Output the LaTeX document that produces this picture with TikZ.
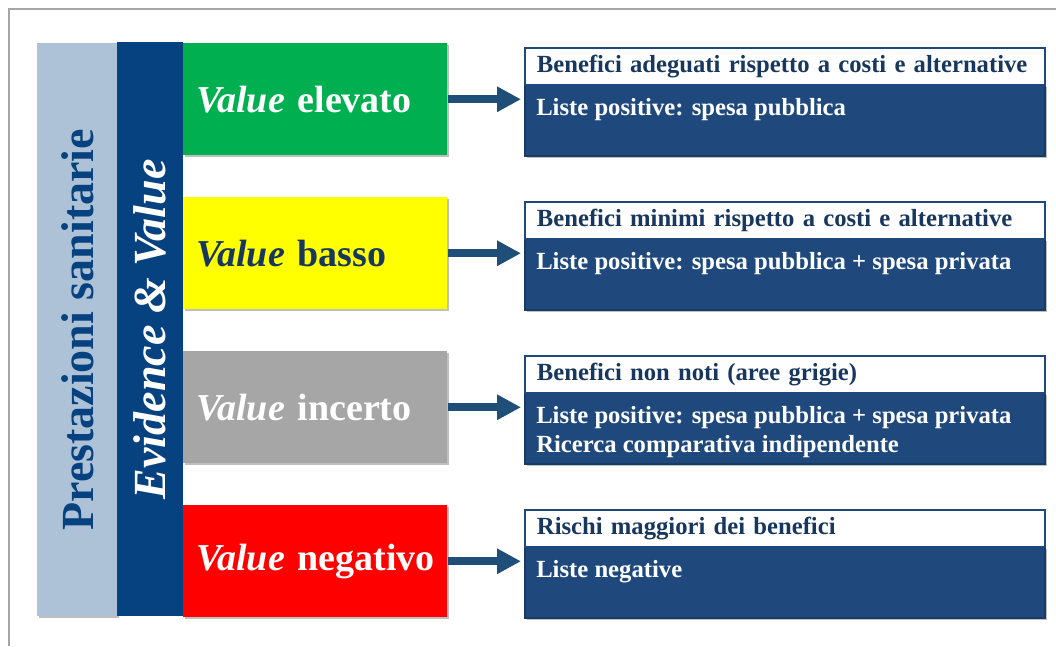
\documentclass[tikz,border=0pt]{standalone}
\usepackage{fontspec}
\setmainfont{Liberation Serif}
\usepackage{xcolor}
\usetikzlibrary{arrows.meta,shadows}

\definecolor{frameGray}{HTML}{A6A6A6}
\definecolor{colLight}{HTML}{ADC2D6}
\definecolor{colDark}{HTML}{06427F}
\definecolor{boxBlue}{HTML}{1F497D}
\definecolor{arrowBlue}{HTML}{1F4E79}
\definecolor{navyText}{HTML}{17375E}
\definecolor{valGreen}{HTML}{00B050}
\definecolor{valYellow}{HTML}{FFFF00}
\definecolor{valGray}{HTML}{A6A6A6}
\definecolor{valRed}{HTML}{FF0000}

\newcommand{\colfont}{\fontsize{34.5}{40}\selectfont\bfseries}
\newcommand{\valfont}{\fontsize{28.5}{34}\selectfont\bfseries}
\newcommand{\boxfont}{\fontsize{18.5}{21.75}\selectfont\bfseries}

\begin{document}
\begin{tikzpicture}[x=0.75pt, y=-0.75pt,
    softshadow/.style={drop shadow={shadow xshift=1.5pt, shadow yshift=-1.5pt, opacity=0.25, fill=black}},
    valbox/.style={softshadow, anchor=north west, inner xsep=9.75pt, inner ysep=0pt,
        minimum width=198pt, minimum height=84pt, text width=178.5pt, align=left, font=\valfont},
    headbox/.style={anchor=north west, fill=white, draw=boxBlue, line width=1.4pt, inner xsep=9pt,
        minimum width=390pt, minimum height=27.75pt, text width=372pt, align=left,
        font=\boxfont, text=navyText},
    bodybox/.style={softshadow, anchor=north west, fill=boxBlue, draw=boxBlue!80!black, line width=1.2pt,
        minimum width=390pt, minimum height=53.25pt, inner sep=0pt},
    bodytext/.style={anchor=north west, inner sep=0pt, align=left, font=\boxfont, text=white},
    valarrow/.style={arrowBlue, line width=6pt, -{Triangle[length=18pt, width=18pt]}, shorten >=2.25pt}]
    \useasboundingbox (0,0) rectangle (1056,646);

    % Frame
    \draw[frameGray, line width=1.5pt] (9,646) -- (9,9) -- (1056,9);

    % Side columns
    \node[softshadow, fill=colLight, anchor=north west, inner sep=0pt,
        minimum width=60pt, minimum height=429.75pt] (prest) at (37,43) {};
    \node[rotate=90, font=\colfont, text=colDark] (prestlbl) at (prest.center) {Prestazioni sanitarie};
    \node[fill=colDark, anchor=north west, inner sep=0pt,
        minimum width=49.5pt, minimum height=430.5pt] (evid) at (117,42) {};
    \node[rotate=90, font=\colfont, text=white] (evidlbl) at (evid.center) {\itshape Evidence \& Value};

    % Value boxes
    \foreach \i/\col/\txt/\word in {0/valGreen/white/elevato, 1/valYellow/navyText/basso,
                                     2/valGray/white/incerto, 3/valRed/white/negativo} {
        \node[valbox, fill=\col, text=\txt] (val\i) at (183, {43+154*\i}) {\mbox{\textit{Value} \word}};
    }

    % Header and body boxes
    \foreach \i/\head/\body in {
        0/{Benefici adeguati rispetto a costi e alternative}/{Liste positive: spesa pubblica},
        1/{Benefici minimi rispetto a costi e alternative}/{Liste positive: spesa pubblica + spesa privata},
        2/{Benefici non noti (aree grigie)}/{Liste positive: spesa pubblica + spesa privata\\Ricerca comparativa indipendente},
        3/{Rischi maggiori dei benefici}/{Liste negative}} {
        \node[bodybox] (body\i) at (524, {84+154*\i}) {};
        \node[headbox] (head\i) at (524, {47+154*\i}) {\head};
        \node[bodytext] (bodytxt\i) at ([xshift=9pt, yshift=-8pt]body\i.north west) {\strut\body};
    }

    % Arrows
    \foreach \i in {0,...,3} {
        \draw[valarrow] (val\i.east) -- (val\i.east -| body\i.west);
    }
\end{tikzpicture}
\end{document}
